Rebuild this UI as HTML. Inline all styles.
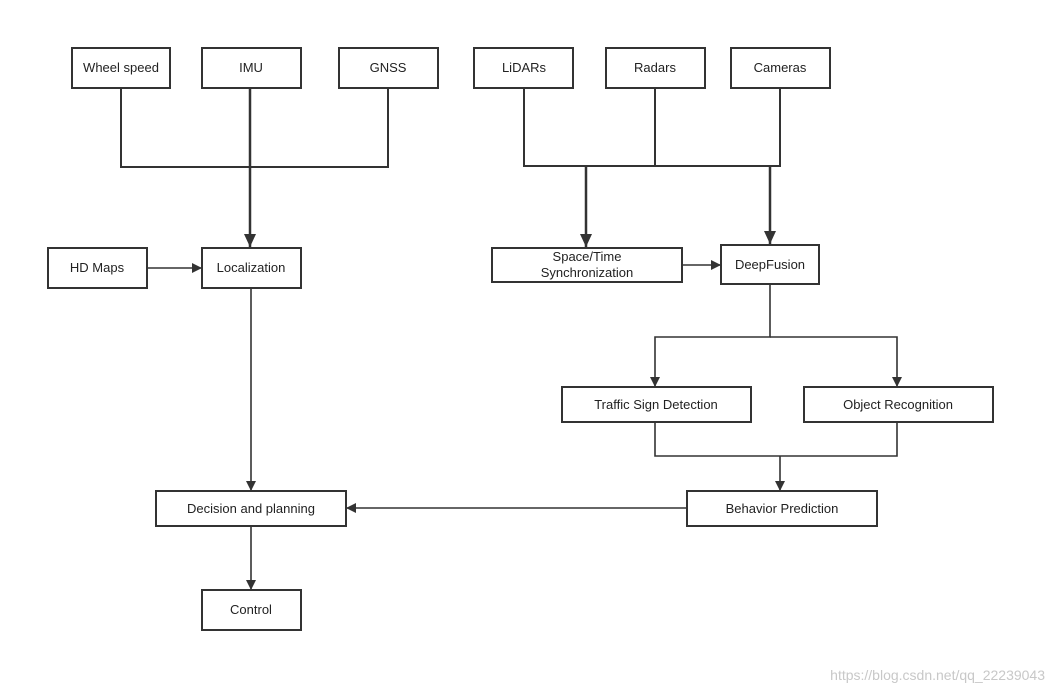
<!DOCTYPE html>
<html><head><meta charset="utf-8"><style>
html,body{margin:0;padding:0;background:#fff;}
svg{display:block;font-family:"Liberation Sans",Arial,sans-serif;}
</style></head><body>
<svg width="1055" height="693" viewBox="0 0 1055 693" xmlns="http://www.w3.org/2000/svg">
<defs>
<marker id="a" markerWidth="10" markerHeight="10" refX="9" refY="5" orient="auto" markerUnits="userSpaceOnUse">
<path d="M0,0 L10,5 L0,10 z" fill="#333"/></marker>
<marker id="b" markerWidth="14" markerHeight="14" refX="13" refY="6" orient="auto" markerUnits="userSpaceOnUse">
<path d="M0,0 L13,6 L0,12 z" fill="#333"/></marker>
</defs>
<g fill="none" stroke="#333">
<g stroke-width="2">
<path d="M121,88 V167 H388 V88"/>
<path d="M524,88 V166 H780 V88 M655,88 V166"/>
</g>
<g stroke-width="2.5">
<path d="M250,88 V247" marker-end="url(#b)"/>
<path d="M586,167 V247" marker-end="url(#b)"/>
<path d="M770,167 V244" marker-end="url(#b)"/>
</g>
<g stroke-width="1.6">
<path d="M682,265 H720" marker-end="url(#a)"/>
<path d="M147,268 H201" marker-end="url(#a)"/>
<path d="M251,288 V490" marker-end="url(#a)"/>
<path d="M770,284 V337 H655 V386" marker-end="url(#a)"/>
<path d="M770,337 H897 V386" marker-end="url(#a)"/>
<path d="M655,422 V456 H897 V422"/>
<path d="M780,456 V490" marker-end="url(#a)"/>
<path d="M687,508 H347" marker-end="url(#a)"/>
<path d="M251,526 V589" marker-end="url(#a)"/>
</g>
<g stroke-width="2" fill="#fff">
<rect x="72" y="48" width="98" height="40"/>
<rect x="202" y="48" width="99" height="40"/>
<rect x="339" y="48" width="99" height="40"/>
<rect x="474" y="48" width="99" height="40"/>
<rect x="606" y="48" width="99" height="40"/>
<rect x="731" y="48" width="99" height="40"/>
<rect x="48" y="248" width="99" height="40"/>
<rect x="202" y="248" width="99" height="40"/>
<rect x="492" y="248" width="190" height="34"/>
<rect x="721" y="245" width="98" height="39"/>
<rect x="562" y="387" width="189" height="35"/>
<rect x="804" y="387" width="189" height="35"/>
<rect x="156" y="491" width="190" height="35"/>
<rect x="687" y="491" width="190" height="35"/>
<rect x="202" y="590" width="99" height="40"/>
</g>
</g>
<g font-size="13" fill="#222" text-anchor="middle">
<text x="121" y="72">Wheel speed</text>
<text x="251" y="72">IMU</text>
<text x="388" y="72">GNSS</text>
<text x="524" y="72">LiDARs</text>
<text x="655" y="72">Radars</text>
<text x="780" y="72">Cameras</text>
<text x="97" y="272">HD Maps</text>
<text x="251" y="272">Localization</text>
<text x="587" y="261">Space/Time</text>
<text x="587" y="277">Synchronization</text>
<text x="770" y="269">DeepFusion</text>
<text x="656" y="409">Traffic Sign Detection</text>
<text x="898" y="409">Object Recognition</text>
<text x="251" y="513">Decision and planning</text>
<text x="782" y="513">Behavior Prediction</text>
<text x="251" y="614">Control</text>
</g>
<text x="1045" y="680" font-size="14" fill="#c8c8c8" text-anchor="end">https://blog.csdn.net/qq_22239043</text>
</svg>
</body></html>
